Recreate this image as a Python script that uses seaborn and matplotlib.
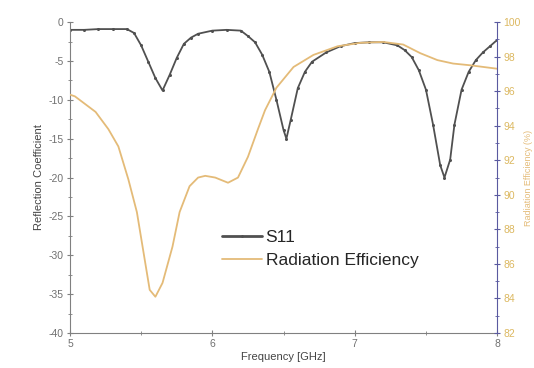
import numpy as np
import pandas as pd
import matplotlib
matplotlib.use("Agg")
import matplotlib.pyplot as plt
import seaborn as sns
from matplotlib.ticker import MultipleLocator
from matplotlib.lines import Line2D

# S11 (reflection coefficient, dB)
s11_freq = [5.0, 5.1, 5.2, 5.3, 5.4, 5.45, 5.5, 5.55, 5.6, 5.65, 5.7, 5.75, 5.8, 5.85, 5.9,
            6.0, 6.1, 6.2, 6.25, 6.3, 6.35, 6.4, 6.45, 6.5, 6.52, 6.55, 6.6, 6.65, 6.7, 6.8,
            6.9, 7.0, 7.1, 7.2, 7.3, 7.35, 7.4, 7.45, 7.5, 7.55, 7.6, 7.63, 7.67, 7.7, 7.75,
            7.8, 7.85, 7.9, 7.95, 8.0]
s11_val = [-1.0, -1.0, -0.9, -0.9, -0.9, -1.4, -3.0, -5.1, -7.2, -8.8, -6.8, -4.6, -2.8, -2.0, -1.5,
           -1.1, -1.0, -1.1, -1.8, -2.6, -4.2, -6.4, -10.0, -13.9, -15.0, -12.6, -8.5, -6.4, -5.1, -3.9,
           -3.1, -2.7, -2.6, -2.6, -3.0, -3.6, -4.5, -6.2, -8.7, -13.2, -18.4, -20.0, -17.7, -13.2, -8.7,
           -6.4, -4.9, -3.9, -3.1, -2.3]

# Radiation efficiency (%)
eff_freq = [5.0, 5.035, 5.18, 5.27, 5.34, 5.41, 5.47, 5.51, 5.56, 5.60, 5.65, 5.72, 5.77,
            5.84, 5.90, 5.95, 6.02, 6.11, 6.18, 6.25, 6.32, 6.37, 6.45, 6.57, 6.71, 6.88,
            7.04, 7.20, 7.34, 7.46, 7.58, 7.69, 7.81, 8.0]
eff_val = [95.8, 95.7, 94.8, 93.8, 92.8, 90.9, 89.0, 87.0, 84.5, 84.1, 84.9, 87.0, 89.0,
           90.5, 91.0, 91.1, 91.0, 90.7, 91.0, 92.2, 93.8, 94.9, 96.2, 97.4, 98.1, 98.6,
           98.8, 98.85, 98.7, 98.2, 97.8, 97.6, 97.5, 97.3]

x_ticks = [5, 6, 7, 8]
left_ticks = [0, -5, -10, -15, -20, -25, -30, -35, -40]
right_ticks = [100, 98, 96, 94, 92, 90, 88, 86, 84, 82]

sns.set_style("white")
plt.rcParams['font.family'] = ['Liberation Sans', 'DejaVu Sans']
plt.rcParams['axes.unicode_minus'] = False

c_s11 = "#505050"
c_eff = "#e4bb78"
c_right = "#5a5aa0"
c_tick = "#707070"

fig = plt.figure(figsize=(5.34, 3.68), dpi=100)
ax = fig.add_axes([0.131, 0.095, 0.8, 0.845])
ax2 = ax.twinx()

df1 = pd.DataFrame({"f": s11_freq, "v": s11_val})
df2 = pd.DataFrame({"f": eff_freq, "v": eff_val})

sns.lineplot(data=df1, x="f", y="v", ax=ax, color=c_s11, lw=1.3, marker="o",
             markersize=2.2, markeredgewidth=0, legend=False)
sns.lineplot(data=df2, x="f", y="v", ax=ax2, color=c_eff, lw=1.3, legend=False)

ax.set_xlim(5, 8)
ax.set_ylim(-40, 0)
ax2.set_ylim(82, 100)
ax.set_xticks(x_ticks)
ax.set_yticks(left_ticks)
ax2.set_yticks(right_ticks)
ax.xaxis.set_minor_locator(MultipleLocator(0.5))
ax.yaxis.set_minor_locator(MultipleLocator(2.5))
ax2.yaxis.set_minor_locator(MultipleLocator(1))

for a in (ax, ax2):
    a.spines['top'].set_visible(False)
ax.spines['left'].set_color("#808080")
ax.spines['bottom'].set_color("#808080")
ax.spines['right'].set_visible(False)
ax2.spines['left'].set_visible(False)
ax2.spines['bottom'].set_visible(False)
ax2.spines['right'].set_color(c_right)

ax.tick_params(axis='both', which='major', direction='inout', length=5, width=0.8,
               color="#808080", labelsize=7.5, labelcolor=c_tick, pad=2)
ax.tick_params(axis='both', which='minor', direction='inout', length=3, width=0.6, color="#808080")
ax.tick_params(axis='y', left=True, which='both')
ax.tick_params(axis='x', bottom=True, which='both')
ax2.tick_params(axis='y', which='major', direction='inout', length=5, width=0.8,
                color=c_right, labelsize=7.5, labelcolor="#dcb860", pad=2, right=True)
ax2.tick_params(axis='y', which='minor', direction='inout', length=3, width=0.6,
                color=c_right, right=True)

ax.set_xlabel("Frequency [GHz]", fontsize=8, color="#444444", labelpad=2)
ax.set_ylabel("Reflection Coefficient", fontsize=8, color="#444444", labelpad=3)
ax2.set_ylabel("Radiation Efficiency (%)", fontsize=6.5, color=c_eff, labelpad=2)
ax.grid(False)
ax2.grid(False)

handles = [Line2D([], [], color=c_s11, lw=2.0, marker="o", markersize=2, markeredgewidth=0),
           Line2D([], [], color=c_eff, lw=1.3)]
ax.legend(handles, ["S11", "Radiation Efficiency"], loc="upper left",
          bbox_to_anchor=(0.34, 0.355), frameon=False, fontsize=12.5,
          handlelength=2.3, handletextpad=0.2, labelspacing=0.45, borderaxespad=0)

fig.savefig("out.png", dpi=100)
